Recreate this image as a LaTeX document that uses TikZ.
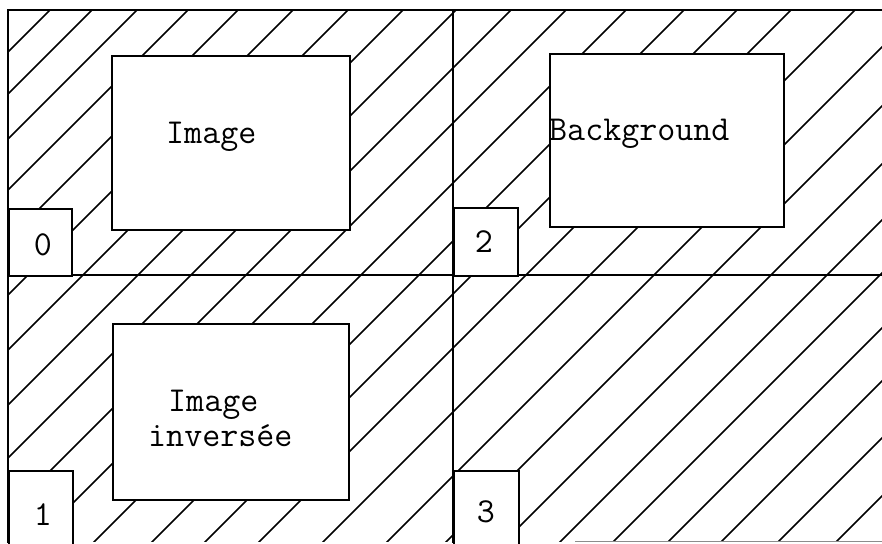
\documentclass[tikz,border=0pt]{standalone}
\begin{document}
\begin{tikzpicture}[x=1pt,y=-1pt,
  frameline/.style={line width=2pt,black},
  hatch/.style={line width=1.7pt,black},
  whitebox/.style={draw=black,line width=2pt,fill=white,rectangle,inner sep=0pt,anchor=north west},
  lbl/.style={inner sep=0pt,font=\ttfamily\fontsize{35}{40}\selectfont}]
\useasboundingbox (0,0) rectangle (882,543);
% hatching
\begin{scope}
\clip (8,10) rectangle (882,541.5);
\foreach \c in {60,102,147,198,248,303,358,413,466,521,576,636,694,747,801,865,929,988,1046,1102,1155,1210,1263,1320,1378}
  \draw[hatch] (\c-560,560) -- (\c+10,-10);
\end{scope}
% frame
\coordinate (tl) at (8,10);
\coordinate (tr) at (882,10);
\coordinate (bl) at (8,543);
\coordinate (ml) at (8,275);
\coordinate (mr) at (882,275);
\coordinate (mt) at (453,10);
\coordinate (mb) at (453,543);
\coordinate (bs) at (575,541.5);
\coordinate (be) at (882,541.5);
\draw[frameline] (bl) -- (tl) -- (tr);
\draw[frameline] (ml) -- (mr);
\draw[frameline] (mt) -- (mb);
\draw[line width=1.2pt,black!45] (bs) -- (be);
% picture boxes
\node[whitebox,minimum width=238,minimum height=174] (img) at (111,55) {};
\node[whitebox,minimum width=234,minimum height=173] (bg) at (549,53) {};
\node[whitebox,minimum width=236,minimum height=176] (inv) at (112,323) {};
% label boxes
\node[whitebox,minimum width=63,minimum height=67] (b0) at (8,208) {};
\node[whitebox,minimum width=64,minimum height=68] (b2) at (453,207) {};
\node[whitebox,minimum width=64,minimum height=75] (b1) at (8,470) {};
\node[whitebox,minimum width=65,minimum height=75] (b3) at (453,470) {};
% texts
\node[lbl,anchor=base west] (timg) at (166,143) {Image};
\node[lbl,anchor=base west] (tbg) at (549,140) {Background};
\node[lbl,anchor=base west] (tinv1) at (168,411) {Image};
\node[lbl,anchor=base west] (tinv2) at (148,446) {inversée};
\node[lbl,anchor=base] (t0) at (43,255) {0};
\node[lbl,anchor=base] (t2) at (484,252) {2};
\node[lbl,anchor=base] (t1) at (43,525) {1};
\node[lbl,anchor=base] (t3) at (486,522) {3};
\end{tikzpicture}
\end{document}
